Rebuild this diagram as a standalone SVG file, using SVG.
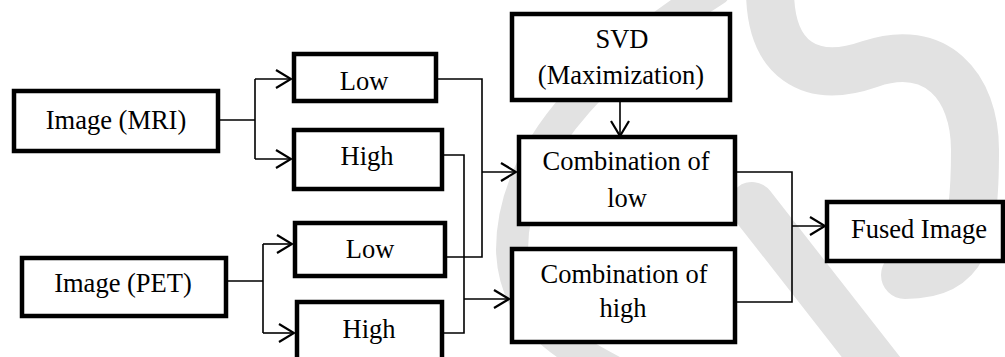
<svg xmlns="http://www.w3.org/2000/svg" width="1005" height="357" viewBox="0 0 1005 357">
  <style>
    .box { fill: #ffffff; stroke: #000000; stroke-width: 4.5; }
    .lbl { font-family: "Liberation Serif", "Times New Roman", serif; font-size: 26.5px; fill: #000000; text-anchor: middle; }
    .wire { fill: none; stroke: #000000; stroke-width: 1.6; }
    .arrow { fill: none; stroke: #000000; stroke-width: 1.6; marker-end: url(#open-head); }
    .mark { fill: none; stroke: #e2e2e2; stroke-linecap: round; }
  </style>
  <defs>
    <marker id="open-head" viewBox="-16 -11 18 22" markerWidth="18" markerHeight="22" refX="0" refY="0" orient="auto" markerUnits="userSpaceOnUse">
      <path d="M -15 -9 L 0 0 L -15 9" fill="none" stroke="#000000" stroke-width="2.2"/>
    </marker>
  </defs>

  <rect width="1005" height="357" fill="#ffffff"/>

  <!-- light background swooshes -->
  <g id="backdrop">
    <path class="mark" stroke-width="32" d="M 715 -10 C 620 50 512 140 512 250 C 514 315 560 345 620 375"/>
    <path class="mark" stroke-width="48" d="M 770 -10 C 770 60 810 85 870 64 C 935 42 975 85 975 150 C 975 240 965 275 905 275"/>
    <path class="mark" stroke-width="46" d="M 752 205 L 885 375"/>
  </g>

  <!-- connectors -->
  <g id="connectors">
    <path class="wire" d="M 218 120 H 255 M 255 79 V 159"/>
    <path class="arrow" d="M 255 79 H 291"/>
    <path class="arrow" d="M 255 159 H 291"/>

    <path class="wire" d="M 226 281 H 263 M 263 244 V 333"/>
    <path class="arrow" d="M 263 244 H 292"/>
    <path class="arrow" d="M 263 333 H 294"/>

    <path class="wire" d="M 437 79 H 482 V 257 H 446"/>
    <path class="arrow" d="M 482 172 H 516"/>

    <path class="wire" d="M 443 155 H 464 V 333 H 443"/>
    <path class="arrow" d="M 464 299 H 509"/>

    <path class="arrow" d="M 620 102 V 136"/>

    <path class="wire" d="M 736 172 H 792 V 302 H 736"/>
    <path class="arrow" d="M 792 226 H 825"/>
  </g>

  <g id="image-mri">
    <rect class="box" x="14" y="91" width="204" height="60"/>
    <text class="lbl" x="116" y="129">Image (MRI)</text>
  </g>

  <g id="low-mri">
    <rect class="box" x="294" y="54" width="142" height="47"/>
    <text class="lbl" x="364" y="90">Low</text>
  </g>

  <g id="high-mri">
    <rect class="box" x="294" y="130" width="148" height="59"/>
    <text class="lbl" x="367" y="165">High</text>
  </g>

  <g id="image-pet">
    <rect class="box" x="22" y="258" width="204" height="58"/>
    <text class="lbl" x="123" y="292">Image (PET)</text>
  </g>

  <g id="low-pet">
    <rect class="box" x="295" y="223" width="150" height="53"/>
    <text class="lbl" x="370" y="258">Low</text>
  </g>

  <g id="high-pet">
    <rect class="box" x="297" y="302" width="145" height="62"/>
    <text class="lbl" x="369" y="338">High</text>
  </g>

  <g id="svd">
    <rect class="box" x="512" y="14" width="218" height="86"/>
    <text class="lbl" x="622" y="48">SVD</text>
    <text class="lbl" x="621" y="84">(Maximization)</text>
  </g>

  <g id="combination-low">
    <rect class="box" x="519" y="137" width="216" height="87"/>
    <text class="lbl" x="626" y="170">Combination of</text>
    <text class="lbl" x="627" y="207">low</text>
  </g>

  <g id="combination-high">
    <rect class="box" x="512" y="249" width="223" height="93"/>
    <text class="lbl" x="624" y="283">Combination of</text>
    <text class="lbl" x="623" y="317">high</text>
  </g>

  <g id="fused-image">
    <rect class="box" x="827" y="202" width="176" height="59"/>
    <text class="lbl" x="919" y="238">Fused Image</text>
  </g>
</svg>
